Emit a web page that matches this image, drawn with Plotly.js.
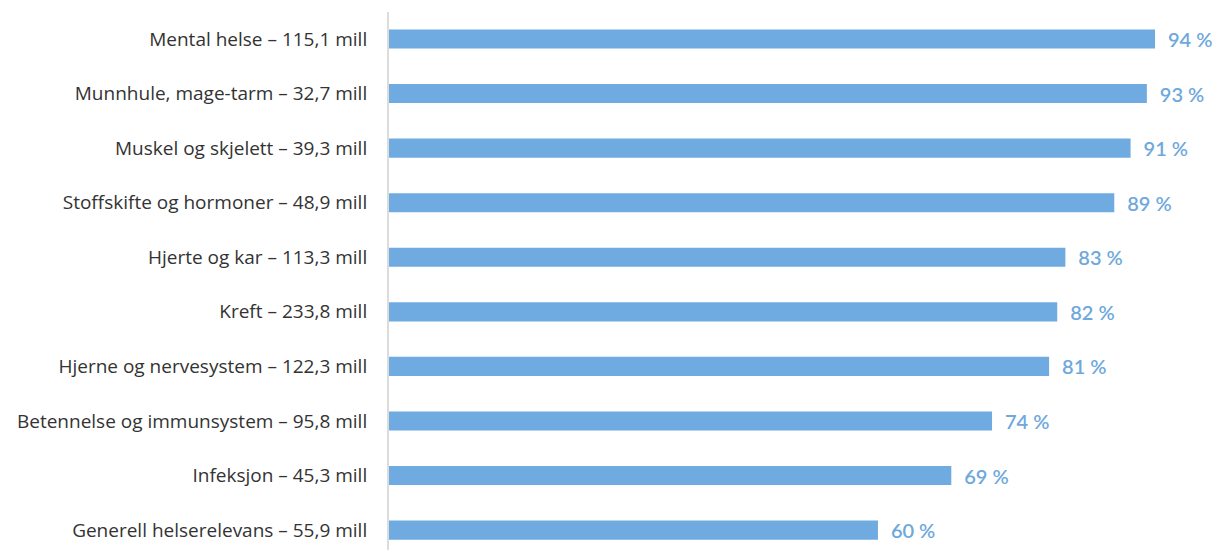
<!DOCTYPE html>
<html>
<head>
<meta charset="utf-8">
<script src="https://cdn.plot.ly/plotly-3.0.1.min.js"></script>
<style>html,body{margin:0;padding:0;background:#fff;}#chart{width:1218px;height:550px;}</style>
</head>
<body>
<div id="chart"></div>
<script>
const categories = [
  "Mental helse – 115,1 mill",
  "Munnhule, mage-tarm – 32,7 mill",
  "Muskel og skjelett – 39,3 mill",
  "Stoffskifte og hormoner – 48,9 mill",
  "Hjerte og kar – 113,3 mill",
  "Kreft – 233,8 mill",
  "Hjerne og nervesystem – 122,3 mill",
  "Betennelse og immunsystem – 95,8 mill",
  "Infeksjon – 45,3 mill",
  "Generell helserelevans – 55,9 mill"
];
const values = [94, 93, 91, 89, 83, 82, 81, 74, 69, 60];

const trace = {
  type: 'bar',
  orientation: 'h',
  y: categories,
  x: values,
  marker: {color: '#6fabe0'},
  width: 0.35,
  texttemplate: '\u00a0\u00a0%{x} %',
  textposition: 'outside',
  constraintext: 'none',
  cliponaxis: false,
  textfont: {family: 'Lato, sans-serif', size: 20, color: '#6fa8dc', weight: 600},
  hoverinfo: 'skip'
};

const layout = {
  width: 1218,
  height: 550,
  margin: {l: 389, r: 10, t: 12, b: 0},
  paper_bgcolor: '#ffffff',
  plot_bgcolor: '#ffffff',
  showlegend: false,
  xaxis: {
    range: [0, 100.5],
    visible: false,
    showgrid: false,
    zeroline: false
  },
  yaxis: {
    type: 'category',
    range: [9.365, -0.495],
    showline: true,
    linecolor: '#dcdcdc',
    linewidth: 2,
    showgrid: false,
    zeroline: false,
    ticks: '',
    ticklabelstandoff: 16,
    tickfont: {family: '"Open Sans", sans-serif', size: 19, color: '#333333'}
  }
};

Plotly.newPlot('chart', [trace], layout, {displayModeBar: false, staticPlot: true});
</script>
</body>
</html>
